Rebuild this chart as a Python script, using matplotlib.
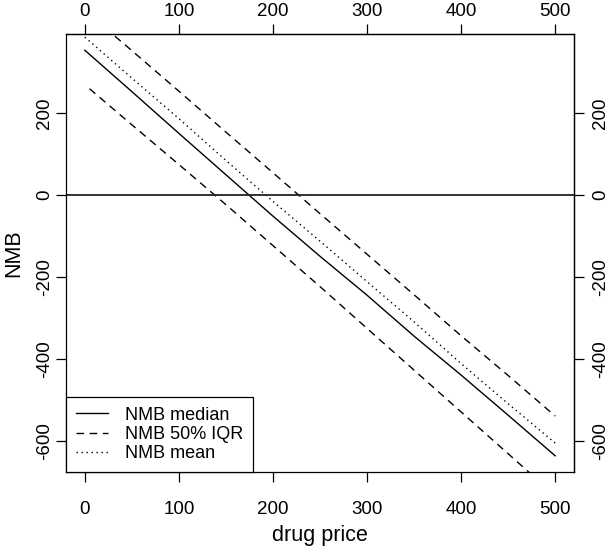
import numpy as np
import matplotlib.pyplot as plt

plt.rcParams['font.family'] = ['Liberation Sans', 'DejaVu Sans']
plt.rcParams['axes.unicode_minus'] = False

# values
price = [0, 50, 100, 150, 200, 250, 300, 350, 400, 450, 500]
nmb_median = [353, 252, 150, 49, -52, -150, -245, -345, -440, -538, -637]
nmb_mean = [385, 285, 186, 84, -16, -113, -212, -310, -412, -510, -606]
iqr_upper = [450, 352, 253, 153, 54, -46, -145, -244, -344, -441, -540]
price_low = [5, 50, 100, 150, 200, 250, 300, 350, 400, 450, 500]
iqr_lower = [259, 171, 74, -24, -124, -224, -326, -428, -530, -632, -734]

xticks = [0, 100, 200, 300, 400, 500]
yticks = [-600, -400, -200, 0, 200]

fig = plt.figure(figsize=(6.08, 5.49), dpi=100)
ax = fig.add_axes([66/608, 1 - 472/549, (574-66)/608, (472-34)/549])

ax.plot(price, nmb_median, '-', color='black', lw=1.0, label='NMB median')
ax.plot(price, iqr_upper, color='black', lw=1.0, dashes=(5.5, 4), label='NMB 50% IQR')
ax.plot(price_low, iqr_lower, color='black', lw=1.0, dashes=(5.5, 4))
ax.plot(price, nmb_mean, color='black', lw=1.0, dashes=(1, 2.6), label='NMB mean')
ax.axhline(0, color='#222222', lw=1.3)

# R style 4% padding around median range
x0, x1 = min(price), max(price)
y0, y1 = min(nmb_median), max(nmb_median)
ax.set_xlim(x0 - 0.04*(x1-x0), x1 + 0.04*(x1-x0))
ax.set_ylim(y0 - 0.04*(y1-y0), y1 + 0.04*(y1-y0))

ax.set_xticks(xticks)
ax.set_yticks(yticks)
ax.tick_params(axis='both', length=7, width=0.9, labelsize=13.5, color='black')
ax.tick_params(axis='x', pad=14)
ax.tick_params(axis='y', pad=2.5, labelrotation=90)
for lab in ax.get_yticklabels():
    lab.set_va('center')

top = ax.secondary_xaxis('top')
top.set_xticks(xticks)
top.tick_params(length=7, width=0.9, labelsize=13.5, pad=3)
right = ax.secondary_yaxis('right')
right.set_yticks(yticks)
right.tick_params(length=7, width=0.9, labelsize=13.5, pad=6, labelrotation=90)
for lab in right.get_yticklabels():
    lab.set_va('center')

for sp in list(ax.spines.values()) + [top.spines['top'], right.spines['right']]:
    sp.set_linewidth(0.9)

ax.set_xlabel('drug price', fontsize=15.5, labelpad=5)
ax.set_ylabel('NMB', fontsize=15.5, labelpad=8)

leg = ax.legend(loc='lower left', borderaxespad=0, fancybox=False, edgecolor='black',
                framealpha=1, fontsize=13, handlelength=1.8, handletextpad=0.9,
                borderpad=0.55, labelspacing=0.12)
leg.get_frame().set_linewidth(0.9)

fig.savefig('out.png', dpi=100)
